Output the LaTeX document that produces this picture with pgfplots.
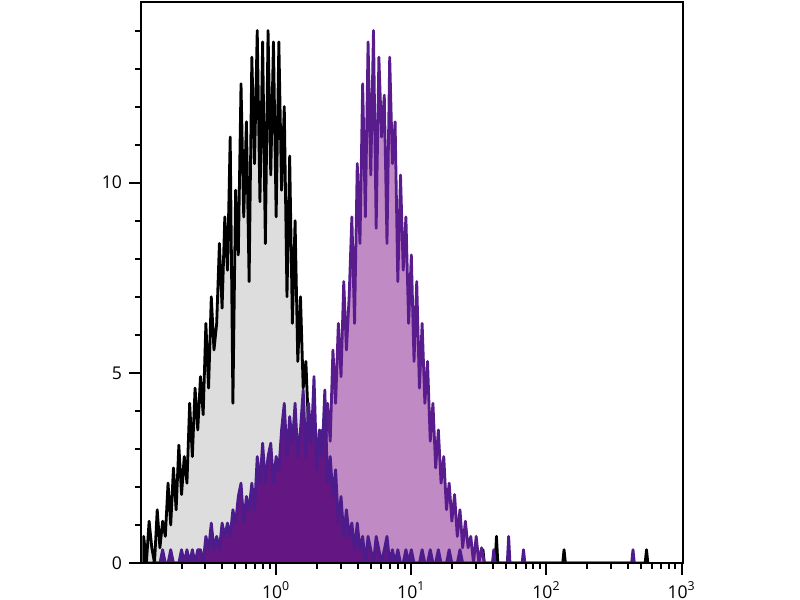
\documentclass[border=0pt]{standalone}
\usepackage{fontspec}
\setmainfont{Open Sans}
\usepackage{pgfplots}
\usepackage{pgfplotstable}
\pgfplotsset{compat=1.18}

\definecolor{isofill}{RGB}{221,221,221}
\definecolor{posfill}{RGB}{192,138,196}
\definecolor{posline}{RGB}{88,28,140}
\definecolor{midfill}{RGB}{100,22,130}
\definecolor{midline}{RGB}{76,28,140}

% x = log10 of intensity, y = events per channel
\pgfplotstableread[row sep=\\]{
l c\\
-0.98 0.7\\ -0.96 0\\ -0.94 1.1\\ -0.92 0.4\\ -0.90 0\\ -0.88 1.4\\ -0.86 0.4\\ -0.84 1.1\\ -0.82 0.7\\ -0.80 2.1\\
-0.78 1.0\\ -0.76 2.5\\ -0.74 1.4\\ -0.72 3.1\\ -0.70 1.8\\ -0.68 2.8\\ -0.66 2.1\\ -0.64 4.2\\ -0.62 2.8\\ -0.60 4.6\\
-0.58 3.5\\ -0.56 4.9\\ -0.54 3.9\\ -0.52 6.3\\ -0.50 4.6\\ -0.48 7.0\\ -0.46 5.6\\ -0.44 6.3\\ -0.42 8.4\\ -0.40 6.7\\
-0.38 9.1\\ -0.36 7.7\\ -0.34 11.2\\ -0.32 4.2\\ -0.30 9.8\\ -0.28 8.1\\ -0.26 12.6\\ -0.24 9.1\\ -0.22 11.6\\ -0.20 7.4\\
-0.18 13.3\\ -0.16 10.5\\ -0.14 14.0\\ -0.12 9.5\\ -0.10 13.7\\ -0.08 8.4\\ -0.06 14.0\\ -0.04 10.2\\ -0.02 13.7\\ 0.00 9.1\\
0.02 13.7\\ 0.04 9.8\\ 0.06 12.0\\ 0.08 7.0\\ 0.10 10.7\\ 0.12 6.3\\ 0.14 9.0\\ 0.16 5.3\\ 0.18 7.0\\ 0.20 4.6\\
0.22 5.3\\ 0.24 3.5\\ 0.26 3.9\\ 0.28 2.1\\ 0.30 2.5\\ 0.32 1.4\\ 0.34 2.1\\ 0.36 1.1\\ 0.38 1.4\\ 0.40 0.7\\
0.42 1.1\\ 0.44 0.4\\ 0.46 0.7\\ 0.48 0\\ 0.50 0.4\\ 0.52 0\\
1.52 0\\ 1.53 0.35\\ 1.54 0\\ 1.62 0\\ 1.63 0.7\\ 1.64 0\\ 2.12 0\\ 2.13 0.35\\ 2.14 0\\ 2.73 0\\ 2.74 0.35\\ 2.75 0\\
}\isotype

\pgfplotstableread[row sep=\\]{
l c\\
0.00 0\\ 0.02 0.4\\ 0.04 0\\ 0.06 0.4\\ 0.08 0\\ 0.10 0.7\\ 0.12 0.4\\ 0.14 0.7\\ 0.16 0.4\\ 0.18 1.1\\
0.20 0.7\\ 0.22 1.4\\ 0.24 1.1\\ 0.26 2.1\\ 0.28 1.4\\ 0.30 2.8\\ 0.32 1.8\\ 0.34 3.5\\ 0.36 2.5\\ 0.38 4.2\\
0.40 3.2\\ 0.42 5.6\\ 0.44 4.2\\ 0.46 6.3\\ 0.48 4.9\\ 0.50 7.4\\ 0.52 5.6\\ 0.54 7.0\\ 0.56 9.1\\ 0.58 6.3\\
0.60 10.5\\ 0.62 8.4\\ 0.64 12.6\\ 0.66 9.1\\ 0.68 13.7\\ 0.70 10.2\\ 0.72 14.0\\ 0.74 8.8\\ 0.76 13.3\\ 0.78 11.2\\
0.80 12.3\\ 0.82 8.4\\ 0.84 13.3\\ 0.86 10.5\\ 0.88 11.6\\ 0.90 7.4\\ 0.92 10.2\\ 0.94 7.7\\ 0.96 9.1\\ 0.98 6.3\\
1.00 8.1\\ 1.02 5.3\\ 1.04 7.4\\ 1.06 4.6\\ 1.08 6.3\\ 1.10 4.2\\ 1.12 5.3\\ 1.14 3.2\\ 1.16 4.2\\ 1.18 2.5\\
1.20 3.5\\ 1.22 2.1\\ 1.24 2.8\\ 1.26 1.4\\ 1.28 2.1\\ 1.30 1.1\\ 1.32 1.8\\ 1.34 0.7\\ 1.36 1.4\\ 1.38 0.4\\
1.40 1.1\\ 1.42 0.4\\ 1.44 0.7\\ 1.46 0\\ 1.48 0.7\\ 1.50 0\\ 1.52 0.4\\ 1.54 0\\
}\positive

\pgfplotstableread[row sep=\\]{
l c\\
-0.90 0\\ -0.88 0\\ -0.86 0\\ -0.84 0.35\\ -0.82 0\\ -0.80 0\\ -0.78 0.35\\ -0.76 0\\ -0.74 0\\ -0.72 0\\
-0.70 0.35\\ -0.68 0\\ -0.66 0.35\\ -0.64 0\\ -0.62 0.35\\ -0.60 0\\ -0.58 0.35\\ -0.56 0.35\\ -0.54 0\\ -0.52 0.7\\
-0.50 0.35\\ -0.48 1.05\\ -0.46 0.35\\ -0.44 0.7\\ -0.42 0.35\\ -0.40 1.05\\ -0.38 0.7\\ -0.36 1.05\\ -0.34 0.7\\ -0.32 1.4\\
-0.30 1.05\\ -0.28 1.75\\ -0.26 2.1\\ -0.24 1.05\\ -0.22 1.75\\ -0.20 1.4\\ -0.18 2.1\\ -0.16 1.4\\ -0.14 2.8\\ -0.12 2.1\\
-0.10 3.15\\ -0.08 2.1\\ -0.06 2.8\\ -0.04 3.15\\ -0.02 2.1\\ 0.00 2.8\\ 0.02 2.45\\ 0.04 3.5\\ 0.06 4.2\\ 0.08 2.8\\
0.10 3.85\\ 0.12 3.15\\ 0.14 4.2\\ 0.16 2.8\\ 0.18 3.5\\ 0.20 4.55\\ 0.22 2.8\\ 0.24 4.2\\ 0.26 3.15\\ 0.28 4.9\\
0.30 2.45\\ 0.32 3.5\\ 0.34 2.8\\ 0.36 4.55\\ 0.38 2.1\\ 0.40 2.8\\ 0.42 1.75\\ 0.44 2.45\\ 0.46 1.05\\ 0.48 1.75\\
0.50 0.7\\ 0.52 1.4\\ 0.54 0.7\\ 0.56 1.05\\ 0.58 0.35\\ 0.60 1.05\\ 0.62 0.35\\ 0.64 0.7\\ 0.66 0\\ 0.68 0.7\\
0.70 0.35\\ 0.72 0\\ 0.74 0.7\\ 0.76 0.35\\ 0.78 0\\ 0.80 0.35\\ 0.82 0.7\\ 0.84 0\\ 0.86 0.35\\ 0.88 0\\
0.90 0.35\\ 0.92 0\\ 0.94 0\\ 0.96 0.35\\ 0.98 0\\ 1.00 0.35\\ 1.02 0\\ 1.04 0\\ 1.06 0\\ 1.08 0.35\\
1.10 0\\ 1.12 0\\ 1.14 0.35\\ 1.16 0\\ 1.18 0\\ 1.20 0.35\\ 1.22 0\\ 1.24 0\\ 1.26 0\\ 1.28 0.35\\
1.30 0\\ 1.32 0\\ 1.34 0\\ 1.36 0.35\\ 1.38 0\\
1.60 0\\ 1.61 0.35\\ 1.62 0\\ 1.71 0\\ 1.72 0.7\\ 1.73 0\\ 1.82 0\\ 1.83 0.35\\ 1.84 0\\ 2.63 0\\ 2.64 0.35\\ 2.65 0\\
}\middle

\begin{document}
\begin{tikzpicture}
\useasboundingbox (-70.5pt,-18.5pt) rectangle (329.5pt,281.5pt);
\begin{axis}[
    scale only axis,
    width=271pt, height=280.5pt,
    xmin=-1, xmax=3.01,
    ymin=0, ymax=14.75,
    axis on top,
    axis line style={line width=1pt},
    tick style={line width=1pt, black},
    tick align=outside,
    major tick length=6pt,
    minor tick length=3pt,
    xtick pos=bottom, ytick pos=left,
    xtick={0,1,2,3},
    xticklabels={10\textsuperscript{0},10\textsuperscript{1},10\textsuperscript{2},10\textsuperscript{3}},
    minor xtick={-0.699,-0.523,-0.398,-0.301,-0.222,-0.155,-0.097,-0.046,
                 0.301,0.477,0.602,0.699,0.778,0.845,0.903,0.954,
                 1.301,1.477,1.602,1.699,1.778,1.845,1.903,1.954,
                 2.301,2.477,2.602,2.699,2.778,2.845,2.903,2.954},
    ytick={0,5,10},
    minor ytick={1,2,3,4,6,7,8,9,11,12,13,14},
    /pgf/number format/assume math mode=true,
    tick label style={font=\fontsize{8.8}{10}\selectfont},
    xticklabel style={inner sep=0pt, yshift=-3.2pt},
  ]
  \addplot[draw=black, fill=isofill, line width=1.4pt, line join=round] table[x=l, y=c] {\isotype} \closedcycle;
  \addplot[draw=posline, fill=posfill, line width=1.4pt, line join=round] table[x=l, y=c] {\positive} \closedcycle;
  \addplot[draw=midline, fill=midfill, line width=1.4pt, line join=round] table[x=l, y=c] {\middle} \closedcycle;
\end{axis}
\end{tikzpicture}
\end{document}
